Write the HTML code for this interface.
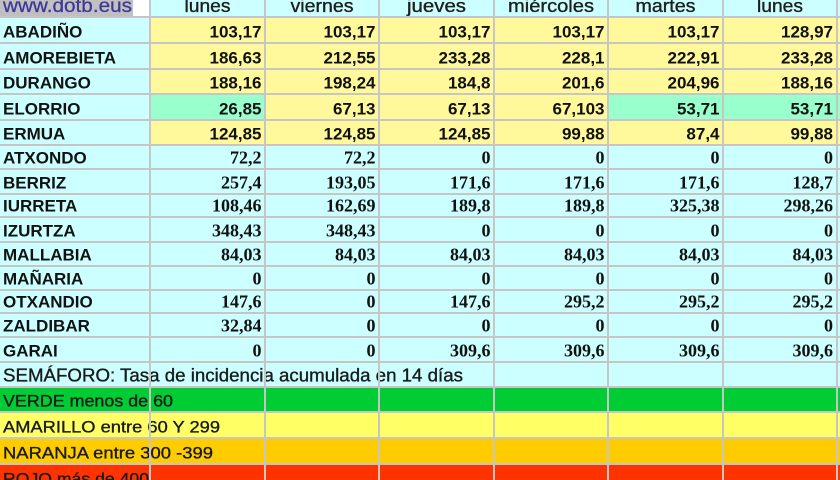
<!DOCTYPE html>
<html><head><meta charset="utf-8"><style>
html,body{margin:0;padding:0;background:#fff;}
svg{display:block;}
</style></head><body>
<svg width="840" height="480" viewBox="0 0 840 480" xmlns="http://www.w3.org/2000/svg">
<!-- backgrounds -->
<rect x="0" y="0" width="840" height="480" fill="#CCFFFF"/>
<rect x="0" y="0" width="150" height="17" fill="#FFFFFF"/>
<rect x="0" y="0" width="133" height="16.5" fill="#C0C0C0"/>
<rect x="150" y="17" width="690" height="77" fill="#FFF99C"/>
<rect x="150" y="120" width="690" height="25" fill="#FFF99C"/>
<rect x="150" y="94" width="115" height="26" fill="#99FFCC"/>
<rect x="265" y="94" width="343" height="26" fill="#FFF99C"/>
<rect x="608" y="94" width="232" height="26" fill="#99FFCC"/>
<rect x="0" y="387" width="840" height="25" fill="#00CC33"/>
<rect x="0" y="412" width="840" height="26" fill="#FFFF66"/>
<rect x="0" y="438" width="840" height="26" fill="#FFCC00"/>
<rect x="0" y="464" width="840" height="16" fill="#FF3300"/>

<!-- header -->
<text x="3" y="12" font-family="Liberation Sans, sans-serif" font-size="19" fill="#3F3A98" stroke="#3F3A98" stroke-width="0.3" textLength="129" lengthAdjust="spacingAndGlyphs">www.dotb.eus</text>
<g font-family="Liberation Sans, sans-serif" font-size="18" fill="#1E1E1E" stroke="#1E1E1E" stroke-width="0.35" text-anchor="middle">
<text x="207.5" y="12" textLength="46" lengthAdjust="spacingAndGlyphs">lunes</text>
<text x="322" y="12" textLength="63" lengthAdjust="spacingAndGlyphs">viernes</text>
<text x="436.5" y="12" textLength="59" lengthAdjust="spacingAndGlyphs">jueves</text>
<text x="551" y="12" textLength="86" lengthAdjust="spacingAndGlyphs">miércoles</text>
<text x="665.5" y="12" textLength="60" lengthAdjust="spacingAndGlyphs">martes</text>
<text x="780" y="12" textLength="46" lengthAdjust="spacingAndGlyphs">lunes</text>
</g>

<!-- city names -->
<g font-family="Liberation Sans, sans-serif" font-size="17" font-weight="bold" fill="#111">
<text x="3" y="37.5">ABADIÑO</text>
<text x="3" y="63.5">AMOREBIETA</text>
<text x="3" y="88.5">DURANGO</text>
<text x="3" y="114.5">ELORRIO</text>
<text x="3" y="139.5">ERMUA</text>
<text x="3" y="163.5">ATXONDO</text>
<text x="3" y="188.5">BERRIZ</text>
<text x="3" y="211.5">IURRETA</text>
<text x="3" y="236.5">IZURTZA</text>
<text x="3" y="260.5">MALLABIA</text>
<text x="3" y="284.5">MAÑARIA</text>
<text x="3" y="307.5">OTXANDIO</text>
<text x="3" y="331.5">ZALDIBAR</text>
<text x="3" y="356.5">GARAI</text>
</g>

<!-- sans numbers -->
<g font-family="Liberation Sans, sans-serif" font-size="17" font-weight="bold" fill="#111" text-anchor="end">
<text x="261.5" y="37.5">103,17</text><text x="375.5" y="37.5">103,17</text><text x="490.5" y="37.5">103,17</text><text x="604.5" y="37.5">103,17</text><text x="719.5" y="37.5">103,17</text><text x="833" y="37.5">128,97</text>
<text x="261.5" y="63.5">186,63</text><text x="375.5" y="63.5">212,55</text><text x="490.5" y="63.5">233,28</text><text x="604.5" y="63.5">228,1</text><text x="719.5" y="63.5">222,91</text><text x="833" y="63.5">233,28</text>
<text x="261.5" y="88.5">188,16</text><text x="375.5" y="88.5">198,24</text><text x="490.5" y="88.5">184,8</text><text x="604.5" y="88.5">201,6</text><text x="719.5" y="88.5">204,96</text><text x="833" y="88.5">188,16</text>
<text x="261.5" y="114.5">26,85</text><text x="375.5" y="114.5">67,13</text><text x="490.5" y="114.5">67,13</text><text x="604.5" y="114.5">67,103</text><text x="719.5" y="114.5">53,71</text><text x="833" y="114.5">53,71</text>
<text x="261.5" y="139.5">124,85</text><text x="375.5" y="139.5">124,85</text><text x="490.5" y="139.5">124,85</text><text x="604.5" y="139.5">99,88</text><text x="719.5" y="139.5">87,4</text><text x="833" y="139.5">99,88</text>
</g>

<!-- serif numbers -->
<g font-family="Liberation Serif, serif" font-size="18" font-weight="bold" fill="#111" text-anchor="end">
<text x="261.5" y="163.5">72,2</text><text x="375.5" y="163.5">72,2</text><text x="490.5" y="163.5">0</text><text x="604.5" y="163.5">0</text><text x="719.5" y="163.5">0</text><text x="833" y="163.5">0</text>
<text x="261.5" y="188.5">257,4</text><text x="375.5" y="188.5">193,05</text><text x="490.5" y="188.5">171,6</text><text x="604.5" y="188.5">171,6</text><text x="719.5" y="188.5">171,6</text><text x="833" y="188.5">128,7</text>
<text x="261.5" y="211.5">108,46</text><text x="375.5" y="211.5">162,69</text><text x="490.5" y="211.5">189,8</text><text x="604.5" y="211.5">189,8</text><text x="719.5" y="211.5">325,38</text><text x="833" y="211.5">298,26</text>
<text x="261.5" y="236.5">348,43</text><text x="375.5" y="236.5">348,43</text><text x="490.5" y="236.5">0</text><text x="604.5" y="236.5">0</text><text x="719.5" y="236.5">0</text><text x="833" y="236.5">0</text>
<text x="261.5" y="260.5">84,03</text><text x="375.5" y="260.5">84,03</text><text x="490.5" y="260.5">84,03</text><text x="604.5" y="260.5">84,03</text><text x="719.5" y="260.5">84,03</text><text x="833" y="260.5">84,03</text>
<text x="261.5" y="284.5">0</text><text x="375.5" y="284.5">0</text><text x="490.5" y="284.5">0</text><text x="604.5" y="284.5">0</text><text x="719.5" y="284.5">0</text><text x="833" y="284.5">0</text>
<text x="261.5" y="307.5">147,6</text><text x="375.5" y="307.5">0</text><text x="490.5" y="307.5">147,6</text><text x="604.5" y="307.5">295,2</text><text x="719.5" y="307.5">295,2</text><text x="833" y="307.5">295,2</text>
<text x="261.5" y="331.5">32,84</text><text x="375.5" y="331.5">0</text><text x="490.5" y="331.5">0</text><text x="604.5" y="331.5">0</text><text x="719.5" y="331.5">0</text><text x="833" y="331.5">0</text>
<text x="261.5" y="356.5">0</text><text x="375.5" y="356.5">0</text><text x="490.5" y="356.5">309,6</text><text x="604.5" y="356.5">309,6</text><text x="719.5" y="356.5">309,6</text><text x="833" y="356.5">309,6</text>
</g>

<!-- semaforo & legend -->
<g font-family="Liberation Sans, sans-serif" font-size="17" fill="#1A1A1A" stroke="#1A1A1A" stroke-width="0.35">
<text x="3" y="381.5" font-size="18" textLength="460" lengthAdjust="spacingAndGlyphs">SEMÁFORO:  Tasa de incidencia acumulada en 14 días</text>
<text x="3" y="406.5" textLength="170" lengthAdjust="spacingAndGlyphs">VERDE menos de 60</text>
<text x="3" y="432.5" textLength="217" lengthAdjust="spacingAndGlyphs">AMARILLO entre 60 Y 299</text>
<text x="3" y="458.5" textLength="210" lengthAdjust="spacingAndGlyphs">NARANJA entre 300 -399</text>
<text x="3" y="484.5" textLength="146" lengthAdjust="spacingAndGlyphs">ROJO más de 400</text>
</g>

<!-- grid lines -->
<g stroke="#C6C6C6" stroke-width="2">
<line x1="0" y1="17" x2="840" y2="17"/>
<line x1="0" y1="43" x2="840" y2="43"/>
<line x1="0" y1="69" x2="840" y2="69"/>
<line x1="0" y1="94" x2="840" y2="94"/>
<line x1="0" y1="120" x2="840" y2="120"/>
<line x1="0" y1="145" x2="840" y2="145"/>
<line x1="0" y1="169" x2="840" y2="169"/>
<line x1="0" y1="194" x2="840" y2="194"/>
<line x1="0" y1="217" x2="840" y2="217"/>
<line x1="0" y1="242" x2="840" y2="242"/>
<line x1="0" y1="266" x2="840" y2="266"/>
<line x1="0" y1="290" x2="840" y2="290"/>
<line x1="0" y1="313" x2="840" y2="313"/>
<line x1="0" y1="337" x2="840" y2="337"/>
<line x1="0" y1="362" x2="840" y2="362"/>
<line x1="0" y1="387" x2="840" y2="387"/>
<line x1="0" y1="412" x2="840" y2="412"/>
<line x1="0" y1="438" x2="840" y2="438"/>
<line x1="0" y1="464" x2="840" y2="464"/>
<line x1="150" y1="0" x2="150" y2="480"/>
<line x1="265" y1="0" x2="265" y2="480"/>
<line x1="379" y1="0" x2="379" y2="480"/>
<line x1="494" y1="0" x2="494" y2="480"/>
<line x1="608" y1="0" x2="608" y2="480"/>
<line x1="723" y1="0" x2="723" y2="480"/>
<line x1="837" y1="0" x2="837" y2="480"/>
</g>
</svg>
</body></html>
